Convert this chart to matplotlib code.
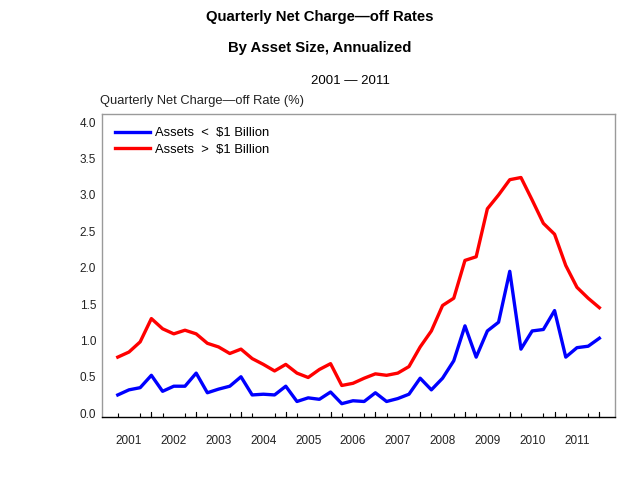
"""quarterly net charge-off rates by asset size, 2001-2011 (annualized)."""

import matplotlib
matplotlib.use("Agg")
import matplotlib.pyplot as plt
from matplotlib.ticker import FixedLocator, NullFormatter

plt.rcParams["font.family"] = ["Liberation Sans", "DejaVu Sans"]

years = list(range(2001, 2012))
quarters = [f"{y}Q{q}" for y in years for q in range(1, 5)]

small_banks = [0.25, 0.32, 0.35, 0.52, 0.30, 0.37, 0.37, 0.55,
               0.28, 0.33, 0.37, 0.50, 0.25, 0.26, 0.25, 0.37,
               0.16, 0.21, 0.19, 0.29, 0.13, 0.17, 0.16, 0.28,
               0.16, 0.20, 0.26, 0.48, 0.32, 0.48, 0.72, 1.20,
               0.77, 1.13, 1.25, 1.95, 0.88, 1.13, 1.15, 1.41,
               0.77, 0.90, 0.92, 1.03]
large_banks = [0.77, 0.84, 0.98, 1.30, 1.16, 1.09, 1.14, 1.09,
               0.96, 0.91, 0.82, 0.88, 0.75, 0.67, 0.58, 0.67,
               0.55, 0.49, 0.60, 0.68, 0.38, 0.41, 0.48, 0.54,
               0.52, 0.55, 0.64, 0.91, 1.13, 1.48, 1.58, 2.10,
               2.15, 2.81, 3.00, 3.21, 3.24, 2.93, 2.61, 2.46,
               2.03, 1.73, 1.58, 1.45]

series_labels = ["Assets  <  $1 Billion", "Assets  >  $1 Billion"]
yticks = [0.0, 0.5, 1.0, 1.5, 2.0, 2.5, 3.0, 3.5, 4.0]

fig = plt.figure(figsize=(6.4, 4.8), dpi=100)
ax = fig.add_axes([0.159, 0.131, 0.802, 0.631])

x = list(range(len(quarters)))
ax.plot(x, small_banks, color="#0000ff", lw=2.4, label=series_labels[0])
ax.plot(x, large_banks, color="#ff0000", lw=2.4, label=series_labels[1])

ax.set_xlim(-1.43, 44.4)
ax.set_ylim(-0.055, 4.11)

# every quarter gets a tick, a longer one at each Q4, year label on Q2
ax.xaxis.set_major_locator(FixedLocator([i for i in x if i % 4 == 1]))
ax.set_xticklabels([str(y) for y in years])
ax.xaxis.set_minor_locator(FixedLocator(x))
ax.xaxis.set_minor_formatter(NullFormatter())
ax.tick_params(axis="x", which="major", length=0, pad=13, labelsize=8.5,
               labelcolor="#222222")
ax.tick_params(axis="x", which="minor", direction="in", length=3, width=0.8,
               color="black")
# longer ticks at year ends
for i in x:
    if i % 4 == 3:
        ax.plot([i, i], [-0.055, 0.015], color="black", lw=0.8, clip_on=False)

ax.set_yticks(yticks)
ax.set_yticklabels([f"{v:.1f}" for v in yticks])
ax.tick_params(axis="y", length=0, pad=4, labelsize=8.5, labelcolor="#222222")

for side in ["left", "top", "right"]:
    ax.spines[side].set_color("#9a9a9a")
    ax.spines[side].set_linewidth(1.0)
ax.spines["bottom"].set_color("black")
ax.spines["bottom"].set_linewidth(1.0)

ax.legend(loc="upper left", bbox_to_anchor=(0.0, 1.0), frameon=False,
          fontsize=9.4, handlelength=2.7, handletextpad=0.35,
          labelspacing=0.32, borderaxespad=0.6)

fig.text(0.5, 1 - 16.5 / 480, "Quarterly Net Charge\u2014off Rates", ha="center",
         va="center", fontsize=10.7, fontweight="bold")
fig.text(0.5, 1 - 48 / 480, "By Asset Size, Annualized", ha="center",
         va="center", fontsize=10.7, fontweight="bold")
fig.text(350 / 640, 1 - 80.5 / 480, "2001 \u2014 2011", ha="center",
         va="center", fontsize=9.5)
fig.text(100 / 640, 1 - 101 / 480, "Quarterly Net Charge\u2014off Rate (%)",
         ha="left", va="center", fontsize=9.3, color="#222222")

fig.savefig("out.png", dpi=100)
